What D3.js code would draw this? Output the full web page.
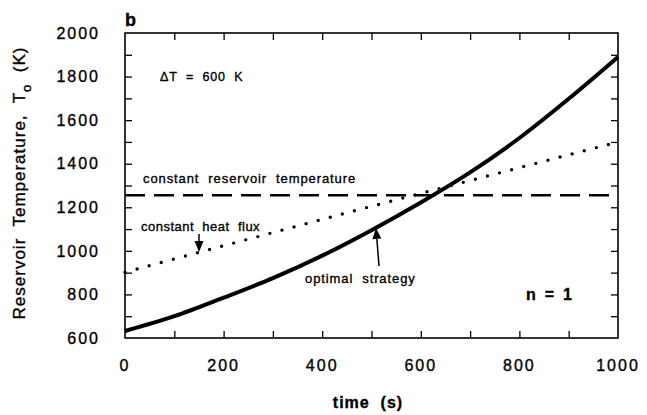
<!DOCTYPE html>
<html>
<head>
<meta charset="utf-8">
<script src="https://cdn.jsdelivr.net/npm/d3@7"></script>
<style>
body { margin: 0; background: #fff; }
text { font-family: "Liberation Sans", Arial, sans-serif; fill: #000; stroke: #000; stroke-width: 0.35px; }
</style>
</head>
<body>
<div id="chart"></div>
<script>
// values
var optTime = [0, 100, 200, 300, 400, 500, 600, 700, 800, 900, 1000];
var optTemp = [632, 700, 785, 875, 978, 1095, 1222, 1360, 1518, 1698, 1890];
var fluxTime = [0, 450, 1000];
var fluxTemp = [902, 1175, 1500];
var resTime = [0, 1000];
var resTemp = [1255, 1255];
var xTicks = [0, 200, 400, 600, 800, 1000];
var yTicks = [600, 800, 1000, 1200, 1400, 1600, 1800, 2000];

var margin = {top: 33, right: 29, bottom: 77, left: 125};
var width = 647 - margin.left - margin.right;
var height = 415 - margin.top - margin.bottom;

var svg = d3.select("#chart").append("svg")
	.attr("width", 647)
	.attr("height", 415);

var g = svg.append("g")
	.attr("transform", "translate(" + margin.left + "," + margin.top + ")");

var x = d3.scaleLinear().domain([0, 1000]).range([0, width]);
var y = d3.scaleLinear().domain([600, 2000]).range([height, 0]);

// minor ticks on all four sides, pointing inward
var minorX = d3.range(100, 1000, 100);
var minorY = d3.range(700, 2000, 100);
g.append("g").call(d3.axisBottom(x).tickValues(minorX).tickSize(-7).tickFormat(""))
	.attr("transform", "translate(0," + height + ")");
g.append("g").call(d3.axisTop(x).tickValues(minorX).tickSize(-7).tickFormat(""));
g.append("g").call(d3.axisLeft(y).tickValues(minorY).tickSize(-7).tickFormat(""));
g.append("g").call(d3.axisRight(y).tickValues(minorY).tickSize(-7).tickFormat(""))
	.attr("transform", "translate(" + width + ",0)");
g.selectAll(".domain").remove();
g.selectAll(".tick line").attr("stroke", "#000").attr("stroke-width", 1.3);

g.append("rect")
	.attr("width", width).attr("height", height)
	.attr("fill", "none").attr("stroke", "#000").attr("stroke-width", 1.6);

// tick labels
g.selectAll(".xlab").data(xTicks).enter().append("text")
	.attr("x", function(d) { return x(d); })
	.attr("y", height + 33)
	.attr("text-anchor", "middle")
	.style("font-size", "16px").style("letter-spacing", "2px")
	.text(function(d) { return d; });

g.selectAll(".ylab").data(yTicks).enter().append("text")
	.attr("x", -25)
	.attr("y", function(d) { return y(d); })
	.attr("dy", "0.36em")
	.attr("text-anchor", "end")
	.style("font-size", "16px").style("letter-spacing", "2px")
	.text(function(d) { return d; });

// axis titles
svg.append("text")
	.attr("x", 368).attr("y", 408)
	.attr("text-anchor", "middle")
	.style("font-size", "16px").style("font-weight", "bold").style("letter-spacing", "1px")
	.attr("xml:space", "preserve")
	.text("time  (s)");

var yt = svg.append("text")
	.attr("transform", "translate(25,183) rotate(-90)")
	.attr("text-anchor", "middle")
	.attr("xml:space", "preserve")
	.style("font-size", "17px").style("letter-spacing", "1px");
yt.append("tspan").text("Reservoir  Temperature,  T");
yt.append("tspan").attr("dy", "6").style("font-size", "13px").text("o");
yt.append("tspan").attr("dy", "-6").text("  (K)");

// curves
var line = d3.line()
	.x(function(d) { return x(d[0]); })
	.y(function(d) { return y(d[1]); });

g.append("path")
	.datum(d3.zip(resTime, resTemp))
	.attr("d", line)
	.attr("fill", "none").attr("stroke", "#000")
	.attr("stroke-width", 2.6).attr("stroke-dasharray", "20,9");

g.append("path")
	.datum(d3.zip(fluxTime, fluxTemp))
	.attr("d", line.curve(d3.curveLinear))
	.attr("fill", "none").attr("stroke", "#000")
	.attr("stroke-width", 3.4).attr("stroke-linecap", "round")
	.attr("stroke-dasharray", "0,12.5");

g.append("path")
	.datum(d3.zip(optTime, optTemp))
	.attr("d", line.curve(d3.curveMonotoneX))
	.attr("fill", "none").attr("stroke", "#000")
	.attr("stroke-width", 4);

// annotations
svg.append("text").attr("x", 125).attr("y", 26)
	.style("font-size", "18px").style("font-weight", "bold").text("b");

svg.append("text").attr("x", 160).attr("y", 81)
	.style("font-size", "12.5px").style("letter-spacing", "0.8px")
	.attr("xml:space", "preserve").text("\u0394T  =  600  K");

svg.append("text").attr("x", 143).attr("y", 183)
	.style("font-size", "13px").style("letter-spacing", "0.9px")
	.attr("xml:space", "preserve").text("constant  reservoir  temperature");

svg.append("text").attr("x", 141).attr("y", 231)
	.style("font-size", "13px").style("letter-spacing", "0.5px")
	.attr("xml:space", "preserve").text("constant  heat  flux");

svg.append("text").attr("x", 305).attr("y", 283)
	.style("font-size", "13px").style("letter-spacing", "0.9px")
	.attr("xml:space", "preserve").text("optimal  strategy");

svg.append("text").attr("x", 526).attr("y", 300)
	.style("font-size", "16px").style("font-weight", "bold")
	.attr("xml:space", "preserve").text("n  =  1");

// arrows
function arrow(x1, y1, x2, y2) {
	var a = Math.atan2(y2 - y1, x2 - x1);
	var L = 11, W = 4.5;
	var bx = x2 - L * Math.cos(a), by = y2 - L * Math.sin(a);
	svg.append("line").attr("x1", x1).attr("y1", y1).attr("x2", bx).attr("y2", by)
		.attr("stroke", "#000").attr("stroke-width", 1.5);
	svg.append("path")
		.attr("d", "M" + x2 + "," + y2 +
			"L" + (bx + W * Math.sin(a)) + "," + (by - W * Math.cos(a)) +
			"L" + (bx - W * Math.sin(a)) + "," + (by + W * Math.cos(a)) + "Z")
		.attr("fill", "#000");
}
arrow(199, 234, 199, 252);
arrow(379, 266, 376, 228);
</script>
</body>
</html>
